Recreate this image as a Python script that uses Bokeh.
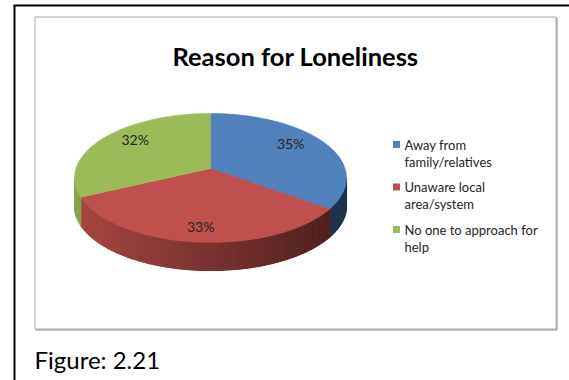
import math
import textwrap

from bokeh.plotting import figure
from bokeh.models import Range1d
from bokeh.core.properties import value
from bokeh.embed import file_html
from bokeh.resources import INLINE

# ---- chart content -------------------------------------------------------
title = "Reason for Loneliness"
categories = [
    "Away from family/relatives",
    "Unaware local area/system",
    "No one to approach for help",
]
shares = [35, 33, 32]
colors = ["#4F81BD", "#C0504D", "#9BBB59"]
caption = "Figure: 2.21"

# ---- page / canvas -------------------------------------------------------
W, H = 569, 380
p = figure(width=W, height=H, x_range=Range1d(0, W), y_range=Range1d(H, 0),
           x_axis_type=None, y_axis_type=None, output_backend="svg",
           toolbar_location=None, min_border=0)
p.grid.visible = False
p.outline_line_color = None
p.background_fill_color = "white"
p.border_fill_color = "white"

FONT = value("Lato")

# page frame (left and top rules) and the chart-area box
p.line([14, 14], [5, H], line_color="black", line_width=2)
p.line([13, W], [5, 5], line_color="black", line_width=2)
p.line([34.5, 555.5, 555.5, 34.5, 34.5], [16.5, 16.5, 328.5, 328.5, 16.5],
       line_color="#A6A6A6", line_width=1)
p.line([556.5, 556.5], [17, 329.5], line_color="#8C8C8C", line_width=1)
p.line([35, 556.5], [329.5, 329.5], line_color="#8C8C8C", line_width=1)

# ---- 3-D pie geometry (perspective-projected disc) -----------------------
CX, CY = 210.0, 168.0      # projected centre of the top face
RX, RY = 134.5, 63.1       # disc radii before perspective divide
K = -0.147                 # perspective strength (far side shrinks)
DEPTH = 28.0               # thickness of the pie


def proj(phi_deg, r=1.0):
    a = math.radians(phi_deg)
    xu = r * math.sin(a)
    yu = -r * math.cos(a)
    w = 1.0 + K * yu
    return CX + RX * xu / w, CY + RY * yu / w


def shade(hex_color, f):
    h = hex_color.lstrip("#")
    rgb = [int(h[i:i + 2], 16) for i in (0, 2, 4)]
    return "#%02x%02x%02x" % tuple(max(0, min(255, int(round(c * f)))) for c in rgb)


total = float(sum(shares))
bounds = [0.0]
for s in shares:
    bounds.append(bounds[-1] + 360.0 * s / total)

# visible part of the rim (front half, between the silhouette points)
vis0 = math.degrees(math.acos(K))
vis1 = 360.0 - vis0
x_left, x_right = CX - RX * 1.011, CX + RX * 1.011


def light(x):
    # side wall lit from the left, darkening towards the right
    return 0.88 - 0.5 * (x - x_left) / (x_right - x_left)


base_xs, base_ys, base_cols = [], [], []
side_xs, side_ys, side_cols = [], [], []
for i, col in enumerate(colors):
    a0, a1 = max(bounds[i], vis0), min(bounds[i + 1], vis1)
    if a1 <= a0:
        continue
    n = max(2, int((a1 - a0) / 1.5))
    rim = [proj(a0 + (a1 - a0) * j / n) for j in range(n + 1)]
    # solid wall underneath so the shaded strips leave no seams
    base_xs.append([q[0] for q in rim] + [q[0] for q in reversed(rim)])
    base_ys.append([q[1] for q in rim] + [q[1] + DEPTH for q in reversed(rim)])
    base_cols.append(shade(col, light(0.5 * (rim[0][0] + rim[-1][0]))))
    for j in range(n):
        (xa, ya), (xb, yb) = rim[j], rim[j + 1]
        c = shade(col, light(0.5 * (xa + xb)))
        side_xs.append([xa, xb, xb, xa])
        side_ys.append([ya, yb, yb + DEPTH, ya + DEPTH])
        side_cols.append(c)

p.patches(base_xs, base_ys, fill_color=base_cols, line_color=base_cols,
          line_width=0.5)
p.patches(side_xs, side_ys, fill_color=side_cols, line_color=side_cols,
          line_width=1.2)

top_xs, top_ys = [], []
for i in range(len(shares)):
    a0, a1 = bounds[i], bounds[i + 1]
    n = max(8, int(a1 - a0))
    pts = [proj(a0 + (a1 - a0) * j / n) for j in range(n + 1)]
    top_xs.append([CX] + [q[0] for q in pts])
    top_ys.append([CY] + [q[1] for q in pts])
p.patches(top_xs, top_ys, fill_color=colors, line_color=colors, line_width=0.6)

# percentage labels inside the slices
lx, ly, lt = [], [], []
for i, s in enumerate(shares):
    mid = 0.5 * (bounds[i] + bounds[i + 1])
    x, y = proj(mid, 0.7)
    yu = -math.cos(math.radians(mid))
    lx.append(x)
    ly.append(y + 10 * yu - 1)
    lt.append(f"{s}%")
p.text(lx, ly, text=lt, text_font=FONT, text_font_size="14px",
       text_color="#262626", text_align="center", text_baseline="middle")

# ---- legend --------------------------------------------------------------
LEG_X, LEG_Y, LEG_STEP, LINE_H = 396, 144, 42.5, 17
sq_y, tx, ty, tt = [], [], [], []
for i, name in enumerate(categories):
    y0 = LEG_Y + i * LEG_STEP
    sq_y.append(y0)
    for k, line in enumerate(textwrap.wrap(name, 22)):
        tx.append(LEG_X + 8)
        ty.append(y0 + k * LINE_H)
        tt.append(line)
p.rect([LEG_X] * len(sq_y), sq_y, width=7, height=7, fill_color=colors,
       line_color=None)
p.text(tx, ty, text=tt, text_font=FONT, text_font_size="13px",
       text_color="#262626", text_align="left", text_baseline="middle")

# ---- title and caption ---------------------------------------------------
p.text([295], [55], text=[title], text_font=FONT, text_font_size="25.5px",
       text_font_style="bold", text_color="black", text_align="center",
       text_baseline="alphabetic")
p.text([34], [359], text=[caption], text_font=FONT, text_font_size="24px",
       text_color="black", text_align="left", text_baseline="alphabetic")

open("out.html", "w").write(file_html(p, INLINE))
